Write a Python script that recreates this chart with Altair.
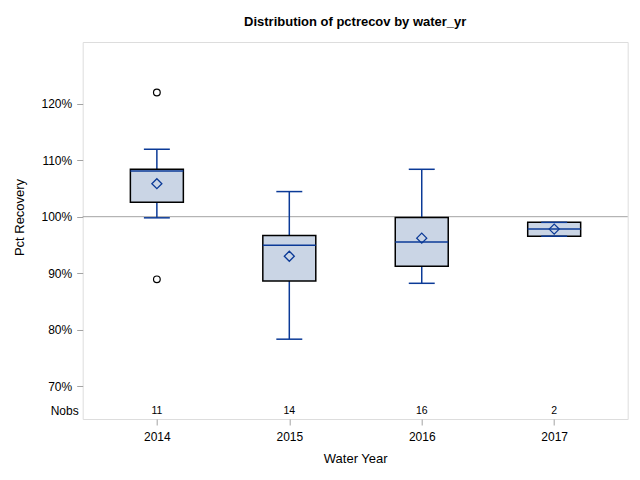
import altair as alt
import pandas as pd

years = [2014, 2015, 2016, 2017]
q1 = [102.55, 88.6, 91.2, 96.55]
median = [108.1, 94.95, 95.5, 97.8]
q3 = [108.4, 96.65, 99.85, 99.0]
whisker_low = [99.8, 78.3, 88.2, 96.55]
whisker_high = [111.95, 104.45, 108.4, 99.0]
mean = [105.85, 93.0, 96.2, 97.8]
nobs = [11, 14, 16, 2]
outlier_years = [2014, 2014]
outlier_values = [122.0, 88.9]
ytick_values = [70, 80, 90, 100, 110, 120]

FONT = "Liberation Sans"
BLUE = "#0B3A97"
FILL = "#CAD5E5"
GRAY = "#A3A3A3"

df = pd.DataFrame({
    "year": years, "q1": q1, "median": median, "q3": q3,
    "wlo": whisker_low, "whi": whisker_high, "mean": mean, "nobs": nobs,
})
out_df = pd.DataFrame({"year": outlier_years, "value": outlier_values})

xscale = alt.Scale(domain=[2013.44, 2017.555], nice=False, zero=False)
yscale = alt.Scale(domain=[64.16, 130.95], nice=False, zero=False)

xaxis = alt.Axis(values=years, format="d", grid=False, domain=False, tickColor=GRAY,
                 tickSize=6, labelPadding=7, labelFontSize=12, labelFont=FONT,
                 labelColor="#000000", title="Water Year", titleFont=FONT,
                 titleFontSize=13, titleFontWeight="normal", titleColor="#000000",
                 titlePadding=10)
yaxis = alt.Axis(values=ytick_values, labelExpr="datum.value + '%'", grid=False,
                 domain=False, tickColor=GRAY, tickSize=6, labelPadding=5,
                 labelFontSize=12, labelFont=FONT, labelColor="#000000",
                 title="Pct Recovery", titleFont=FONT, titleFontSize=13,
                 titleFontWeight="normal", titleColor="#000000",
                 titleX=-63, titleY=175, titleAngle=-90, titleBaseline="middle")

base = alt.Chart(df).transform_calculate(
    xl="datum.year - 0.2", xr="datum.year + 0.2",
    cl="datum.year - 0.098", cr="datum.year + 0.098",
)

ref = alt.Chart(pd.DataFrame({"v": [100]})).mark_rule(color=GRAY, strokeWidth=1).encode(
    y=alt.Y("v:Q", scale=yscale, axis=yaxis)
)

whisk_up = base.mark_rule(color=BLUE, strokeWidth=1.5).encode(
    x=alt.X("year:Q", scale=xscale, axis=xaxis),
    y=alt.Y("q3:Q", scale=yscale), y2="whi:Q")
whisk_dn = base.mark_rule(color=BLUE, strokeWidth=1.5).encode(
    x=alt.X("year:Q", scale=xscale), y=alt.Y("q1:Q", scale=yscale), y2="wlo:Q")

box = base.mark_rect(fill=FILL, stroke="#000000", strokeWidth=1.5).encode(
    x=alt.X("xl:Q", scale=xscale), x2="xr:Q",
    y=alt.Y("q1:Q", scale=yscale), y2="q3:Q")

med = base.mark_rule(color=BLUE, strokeWidth=1.5).encode(
    x=alt.X("xl:Q", scale=xscale), x2="xr:Q", y=alt.Y("median:Q", scale=yscale))

cap_hi = base.mark_rule(color=BLUE, strokeWidth=1.5).encode(
    x=alt.X("cl:Q", scale=xscale), x2="cr:Q", y=alt.Y("whi:Q", scale=yscale))
cap_lo = base.mark_rule(color=BLUE, strokeWidth=1.5).encode(
    x=alt.X("cl:Q", scale=xscale), x2="cr:Q", y=alt.Y("wlo:Q", scale=yscale))

mean_pt = base.mark_point(shape="diamond", filled=False, color=BLUE, size=100,
                          strokeWidth=1.3, opacity=1).encode(
    x=alt.X("year:Q", scale=xscale), y=alt.Y("mean:Q", scale=yscale))

outl = alt.Chart(out_df).mark_point(shape="circle", filled=False, color="#000000",
                                     size=45, strokeWidth=1.2, opacity=1).encode(
    x=alt.X("year:Q", scale=xscale), y=alt.Y("value:Q", scale=yscale))

nobs_txt = base.mark_text(font=FONT, fontSize=10.5, color="#000000",
                          baseline="middle").encode(
    x=alt.X("year:Q", scale=xscale), y=alt.value(369), text="nobs:Q")

nobs_lab = alt.Chart(pd.DataFrame({"t": ["Nobs"]})).mark_text(
    font=FONT, fontSize=12, color="#000000", align="right", baseline="middle").encode(
    x=alt.value(-4), y=alt.value(369), text="t:N")

chart = alt.layer(ref, whisk_up, whisk_dn, box, med, cap_hi, cap_lo, mean_pt, outl,
                  nobs_txt, nobs_lab).properties(
    width=545, height=377,
    title=alt.TitleParams("Distribution of pctrecov by water_yr", font=FONT,
                          fontSize=13, fontWeight="bold", color="#000000",
                          anchor="middle", offset=13),
    autosize=alt.AutoSizeParams(type="none"),
    padding={"left": 74.7, "top": 34, "right": 4, "bottom": 50},
).configure_view(stroke=GRAY, strokeWidth=1).configure(background="white")

chart.save("out.html", embed_options={"renderer": "svg", "actions": False})
